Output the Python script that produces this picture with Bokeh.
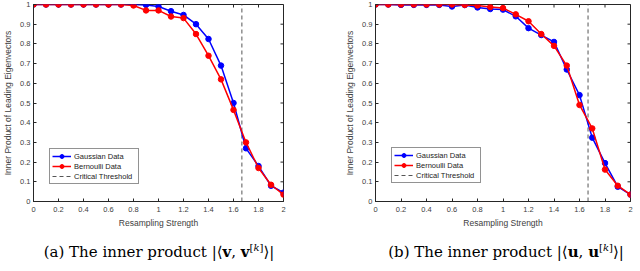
import math
from bokeh.plotting import figure
from bokeh.models import FixedTicker, Legend, LegendItem, Div, Range1d
from bokeh.layouts import row, column
from bokeh.embed import file_html
from bokeh.resources import INLINE

# ---- data ----
strength = [0.0, 0.1, 0.2, 0.3, 0.4, 0.5, 0.6, 0.7, 0.8, 0.9, 1.0,
            1.1, 1.2, 1.3, 1.4, 1.5, 1.6, 1.7, 1.8, 1.9, 2.0]

# (a) inner product |<v, v[k]>|
gauss_v = [1.0, 1.0, 1.0, 1.0, 1.0, 1.0, 1.0, 1.0, 1.0, 0.998, 0.99,
           0.966, 0.947, 0.90, 0.825, 0.69, 0.50, 0.27, 0.18, 0.08, 0.045]
bern_v = [1.0, 1.0, 1.0, 1.0, 1.0, 1.0, 1.0, 1.0, 0.995, 0.97, 0.97,
          0.939, 0.931, 0.85, 0.74, 0.62, 0.465, 0.30, 0.17, 0.085, 0.035]

# (b) inner product |<u, u[k]>|
gauss_u = [1.0, 1.0, 0.998, 0.998, 0.998, 0.998, 0.99, 0.997, 0.985, 0.977, 0.974,
           0.94, 0.88, 0.845, 0.81, 0.67, 0.54, 0.324, 0.195, 0.075, 0.035]
bern_u = [1.0, 1.0, 1.0, 1.0, 1.0, 1.0, 1.0, 0.998, 0.995, 0.987, 0.982,
          0.95, 0.915, 0.85, 0.79, 0.69, 0.49, 0.371, 0.162, 0.08, 0.035]

critical_threshold = 1.667
threshold_y = [0.0, 1.0]

x_ticks = [0, 0.2, 0.4, 0.6, 0.8, 1, 1.2, 1.4, 1.6, 1.8, 2]
x_tick_labels = ["0", "0.2", "0.4", "0.6", "0.8", "1", "1.2", "1.4", "1.6", "1.8", "2"]
y_ticks = [0, 0.1, 0.2, 0.3, 0.4, 0.5, 0.6, 0.7, 0.8, 0.9, 1]
y_tick_labels = ["0", "0.1", "0.2", "0.3", "0.4", "0.5", "0.6", "0.7", "0.8", "0.9", "1"]

series_names = ["Gaussian Data", "Bernoulli Data", "Critical Threshold"]
x_label = "Resampling Strength"
y_label = "Inner Product of Leading Eigenvectors"
captions = [
    "(a) The inner product |&#10216;<b>v</b>, <b>v</b><sup style='font-size:10px'>[<i>k</i>]</sup>&#10217;|",
    "(b) The inner product |&#10216;<b>u</b>, <b>u</b><sup style='font-size:10px'>[<i>k</i>]</sup>&#10217;|",
]

AX = "#262626"
TXT = "#404040"
SANS = "Liberation Sans"


def style_axis(ax, ticks, labels):
    ax.ticker = FixedTicker(ticks=ticks)
    ax.major_label_overrides = dict(zip(ticks, labels))
    ax.major_tick_in = 3
    ax.major_tick_out = 0
    ax.minor_tick_line_color = None
    ax.axis_line_color = AX
    ax.major_tick_line_color = AX
    ax.major_label_text_font = SANS
    ax.major_label_text_font_size = "7.5px"
    ax.major_label_text_color = TXT
    ax.axis_label_text_font = SANS
    ax.axis_label_text_font_size = "8.5px"
    ax.axis_label_text_font_style = "normal"
    ax.axis_label_text_color = TXT


def make_panel(gauss, bern, width, min_left, min_right, legend_loc):
    p = figure(width=width, height=231, x_range=Range1d(0, 2), y_range=Range1d(0, 1),
               output_backend="svg", toolbar_location=None,
               min_border_left=min_left, min_border_right=min_right,
               min_border_top=4, min_border_bottom=30,
               outline_line_color=AX, background_fill_color="white",
               border_fill_color="white")
    p.grid.visible = False
    style_axis(p.xaxis[0], x_ticks, x_tick_labels)
    style_axis(p.yaxis[0], y_ticks, y_tick_labels)
    p.xaxis[0].axis_label = x_label
    p.yaxis[0].axis_label = y_label
    p.xaxis[0].major_label_standoff = 5
    p.xaxis[0].axis_label_standoff = 3
    p.yaxis[0].major_label_standoff = 3
    p.yaxis[0].axis_label_standoff = 4

    # inward ticks on the top and right sides of the box
    p.ray(x=x_ticks, y=[y_ticks[-1]] * len(x_ticks), length=3, length_units="screen",
          angle=-math.pi / 2, line_color=AX, line_width=1)
    p.ray(x=[x_ticks[-1]] * len(y_ticks), y=y_ticks, length=3, length_units="screen",
          angle=math.pi, line_color=AX, line_width=1)

    thr = p.line([critical_threshold, critical_threshold], threshold_y,
                 line_color="#555555", line_width=1, line_dash="4 3")
    bl = p.line(strength, gauss, line_color="#0000ff", line_width=1.5)
    bc = p.scatter(strength, gauss, marker="circle", size=5.5,
                   fill_color="#0000ff", line_color="#0000ff")
    rl = p.line(strength, bern, line_color="#ff0000", line_width=1.5)
    rc = p.scatter(strength, bern, marker="circle", size=5.5,
                   fill_color="#ff0000", line_color="#ff0000")

    legend = Legend(items=[LegendItem(label=series_names[0], renderers=[bl, bc]),
                           LegendItem(label=series_names[1], renderers=[rl, rc]),
                           LegendItem(label=series_names[2], renderers=[thr])],
                    location=legend_loc)
    legend.label_text_font = SANS
    legend.label_text_font_size = "7.5px"
    legend.label_text_color = "#222222"
    legend.label_height = 10
    legend.label_width = 62
    legend.glyph_height = 10
    legend.glyph_width = 19
    legend.label_standoff = 3
    legend.spacing = 0
    legend.padding = 2
    legend.margin = 0
    legend.border_line_color = AX
    legend.border_line_width = 1
    legend.background_fill_alpha = 1
    p.add_layout(legend)
    return p


p1 = make_panel(gauss_v, bern_v, 308, 29, 25, (16, 17))
p2 = make_panel(gauss_u, bern_u, 316, 57, 4, (16, 18))

cap_style = {"text-align": "center", "font-family": "DejaVu Serif",
             "font-size": "15px", "color": "#000000", "line-height": "24px",
             "box-sizing": "border-box", "white-space": "nowrap"}
d1 = Div(text=captions[0], width=308, height=24, styles=dict(cap_style))
d2 = Div(text=captions[1], width=316, height=24,
         styles=dict(cap_style, **{"padding-left": "50px"}))

layout = row(column(p1, d1, spacing=0), column(p2, d2, spacing=0), spacing=0)

open("out.html", "w").write(file_html(layout, INLINE))
